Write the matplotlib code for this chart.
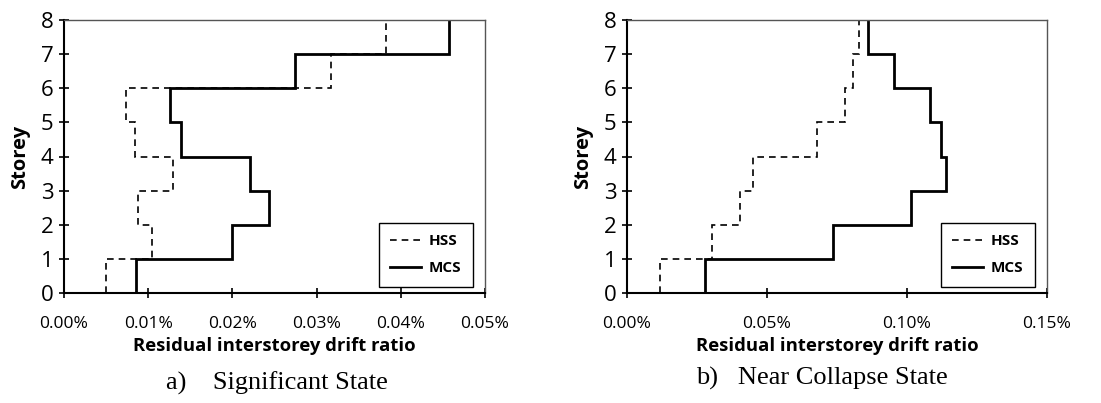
import matplotlib
matplotlib.use("Agg")
import matplotlib.pyplot as plt
from matplotlib.ticker import FuncFormatter, MultipleLocator

plt.rcParams["font.family"] = ["Open Sans", "DejaVu Sans"]

# storey edges and residual interstorey drift ratio (%) per storey
storey_edges = [0, 1, 2, 3, 4, 5, 6, 7, 8]

sig_hss = [0.0050, 0.0104, 0.0088, 0.0129, 0.0084, 0.0074, 0.0317, 0.0383]
sig_mcs = [0.0085, 0.0200, 0.0243, 0.0221, 0.0139, 0.0126, 0.0274, 0.0457]

nc_hss = [0.0119, 0.0305, 0.0404, 0.0450, 0.0679, 0.0777, 0.0807, 0.0829]
nc_mcs = [0.0280, 0.0736, 0.1013, 0.1139, 0.1122, 0.1081, 0.0952, 0.0860]

panels = [
    (sig_hss, sig_mcs, 0.05, 0.01, "a)    Significant State"),
    (nc_hss, nc_mcs, 0.15, 0.05, "b)   Near Collapse State"),
]

fig = plt.figure(figsize=(11.01, 4.03), dpi=100)
W, H = 1101, 403
boxes = [(64, 20, 485, 293), (627, 20, 1047, 293)]
cap_pos = [(277, 383), (822, 378)]

for (hss, mcs, xmax, xstep, cap), (l, t, r, b), (cx, cy) in zip(panels, boxes, cap_pos):
    ax = fig.add_axes([l / W, 1 - b / H, (r - l) / W, (b - t) / H])
    ax.stairs(hss, storey_edges, orientation="horizontal", baseline=None,
              color="black", lw=1.2, ls=(0, (4, 3)), label="HSS")
    ax.stairs(mcs, storey_edges, orientation="horizontal", baseline=None,
              color="black", lw=2.0, label="MCS")
    ax.set_xlim(0, xmax)
    ax.set_ylim(0, 8)
    ax.xaxis.set_major_locator(MultipleLocator(xstep))
    ax.yaxis.set_major_locator(MultipleLocator(1))
    ax.xaxis.set_major_formatter(FuncFormatter(lambda v, p: f"{v:.2f}%"))
    ax.tick_params(axis="both", direction="inout", length=7, width=1.2,
                   color="black")
    ax.tick_params(axis="x", labelsize=12.5, pad=13)
    ax.tick_params(axis="y", labelsize=16, pad=4)
    for s in ["left", "bottom"]:
        ax.spines[s].set_linewidth(1.5)
        ax.spines[s].set_color("black")
    for s in ["top", "right"]:
        ax.spines[s].set_linewidth(1.0)
        ax.spines[s].set_color("#555555")
    ax.set_xlabel("Residual interstorey drift ratio", fontsize=13.3,
                  fontweight="bold", labelpad=4)
    ax.set_ylabel("Storey", fontsize=14.5, fontweight="bold", labelpad=8)
    leg = ax.legend(loc="lower right", bbox_to_anchor=(0.985, 0.0),
                    fancybox=False, edgecolor="black", framealpha=1,
                    fontsize=11, handlelength=2.0, labelspacing=0.85,
                    borderpad=0.75, handletextpad=0.5, borderaxespad=0.4)
    leg.get_frame().set_linewidth(1.0)
    for txt in leg.get_texts():
        txt.set_fontweight("bold")
    fig.text(cx / W, 1 - cy / H, cap, ha="center", va="center",
             fontsize=19, family="Liberation Serif")

fig.savefig("out.png", dpi=100)
